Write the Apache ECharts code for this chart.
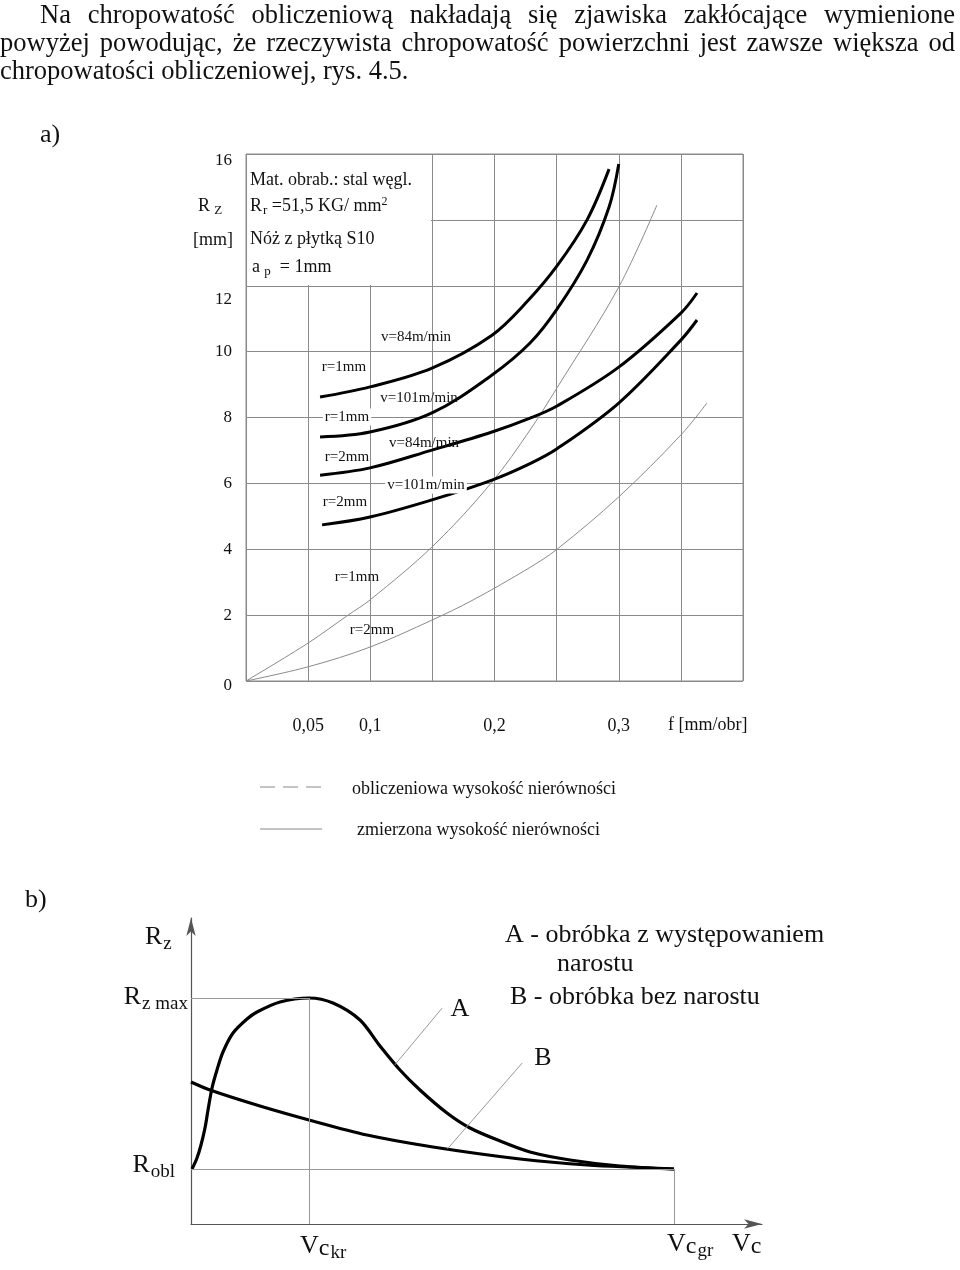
<!DOCTYPE html>
<html><head><meta charset="utf-8">
<script src="https://cdn.jsdelivr.net/npm/echarts@6.0.0/dist/echarts.min.js"></script>
<style>html,body{margin:0;padding:0;background:#fff}#c{width:960px;height:1270px}</style>
</head><body><div id="c"></div>
<script>
// ---------- chart a) data : f [mm/obr] vs Rz [um] ----------
const fTickLabels = [0.05, 0.1, 0.2, 0.3];
const rzTickLabels = [0, 2, 4, 6, 8, 10, 12, 16];
// measured (thick) curves
const f_v84_r1  = [0.0596, 0.0998, 0.1497, 0.198, 0.227, 0.2503, 0.2745, 0.2922];
const rz_v84_r1 = [8.62, 8.93, 9.50, 10.50, 11.55, 12.60, 14.0, 15.54];
const f_v101_r1  = [0.0596, 0.0998, 0.1497, 0.198, 0.2286, 0.2503, 0.2745, 0.2922, 0.300];
const rz_v101_r1 = [7.41, 7.56, 8.14, 9.29, 10.26, 11.29, 12.78, 14.39, 15.70];
const f_v84_r2  = [0.0596, 0.0998, 0.1497, 0.198, 0.2286, 0.2503, 0.300, 0.350, 0.363];
const rz_v84_r2 = [6.25, 6.47, 7.01, 7.56, 7.98, 8.35, 9.53, 11.17, 11.78];
const f_v101_r2  = [0.0612, 0.0998, 0.1497, 0.198, 0.2286, 0.2503, 0.300, 0.350, 0.363];
const rz_v101_r2 = [4.74, 4.98, 5.50, 6.10, 6.60, 7.05, 8.44, 10.35, 10.96];
// calculated (thin) curves
const f_calc_r1  = [0, 0.0499, 0.0821, 0.0998, 0.1505, 0.198, 0.2286, 0.2503, 0.300, 0.3307];
const rz_calc_r1 = [0, 1.15, 2.00, 2.46, 4.10, 6.04, 7.62, 8.90, 11.96, 14.45];
const f_calc_r2  = [0, 0.0499, 0.0998, 0.1497, 0.1827, 0.2286, 0.2503, 0.300, 0.350, 0.371];
const rz_calc_r2 = [0, 0.43, 1.03, 1.85, 2.46, 3.45, 4.00, 5.59, 7.47, 8.44];

// ---------- chart b) data : Vc vs Rz (schematic, relative units) ----------
const vc_A = [0.18, 1.05, 1.75, 2.45, 2.98, 3.68, 4.55, 5.60, 7.36, 9.81, 11.56, 15.59, 20.67, 24.87, 29.60, 33.10, 36.60, 40.10, 44.83, 48.86, 54.12, 59.37, 66.37, 75.13, 84.59];
const rz_A = [17.97, 21.57, 25.82, 31.37, 37.25, 44.44, 50.33, 56.21, 62.42, 66.99, 69.28, 72.55, 73.86, 72.22, 66.67, 58.17, 50.33, 43.79, 36.27, 31.37, 27.12, 23.53, 20.92, 18.95, 17.97];
const vc_B = [0, 3.33, 12.08, 20.67, 30.82, 42.38, 57.62, 69.35, 84.59];
const rz_B = [46.41, 43.79, 38.56, 33.99, 29.08, 25.16, 21.24, 19.28, 17.97];
const vcKr = 20.67, vcGr = 84.59, rzMax = 73.86, rzObl = 17.97;
const leaderA = [[35.7, 52.0], [44.0, 70.6]];
const leaderB = [[44.9, 24.5], [58.0, 52.6]];

// ---------- text ----------
const para1 = "Na chropowatość obliczeniową nakładają się zjawiska zakłócające wymienione";
const para2 = "powyżej powodując, że rzeczywista chropowatość powierzchni jest zawsze większa od";
const para3 = "chropowatości obliczeniowej, rys. 4.5.";

const FF = '"Liberation Serif", "Times New Roman", serif';
const zip = (a, b) => a.map((v, i) => [v, b[i]]);

function txt(x, y, text, size, o) {
  o = o || {};
  const st = { text: text, fontSize: size, fontFamily: FF, fill: o.fill || '#111',
    align: o.align || 'left', verticalAlign: o.va || 'middle' };
  if (o.rich) st.rich = o.rich;
  if (o.bg) { st.backgroundColor = o.bg; st.padding = o.pad || [1, 2]; }
  return { type: 'text', x: x, y: y, z: 10, silent: true, style: st };
}
const graphics = [];
// justified paragraph
const cv = document.createElement('canvas').getContext('2d');
function justify(line, x0, x1, y, size) {
  const words = line.split(' ');
  cv.font = size + 'px ' + FF;
  const w = words.map(s => cv.measureText(s).width);
  const tot = w.reduce((a, b) => a + b, 0);
  const gap = (x1 - x0 - tot) / (words.length - 1);
  let x = x0;
  words.forEach((s, i) => { graphics.push(txt(x, y, s, size)); x += w[i] + gap; });
}
justify(para1, 40, 955, 16, 26.5);
justify(para2, 0, 955, 44.5, 26.5);
graphics.push(txt(0, 72, para3, 26.5));
graphics.push(txt(40, 135, 'a)', 26));
graphics.push(txt(25, 900, 'b)', 26));

// chart a annotations
graphics.push({ type: 'rect', z: 9, silent: true, shape: { x: 247, y: 155, width: 184, height: 130 }, style: { fill: '#fff' } });
const sub18 = { n: { fontSize: 18, fontFamily: FF, fill: '#111' }, s: { fontSize: 13, fontFamily: FF, fill: '#111', padding: [9, 0, 0, 1] }, p: { fontSize: 12, fontFamily: FF, fill: '#111', padding: [0, 0, 9, 0] } };
graphics.push(txt(250, 180, 'Mat. obrab.: stal węgl.', 18));
graphics.push(txt(250, 206, '{n|R}{s|r}{n| =51,5 KG/ mm}{p|2}', 18, { rich: sub18 }));
graphics.push(txt(250, 239, 'Nóż z płytką S10', 18));
graphics.push(txt(252, 267, '{n|a}{s| p}{n|  = 1mm}', 18, { rich: sub18 }));
graphics.push(txt(198, 206, '{n|R}{s| Z}', 18, { rich: sub18 }));
graphics.push(txt(193, 240, '[mm]', 18));
graphics.push(txt(668, 725, 'f [mm/obr]', 18));
const lab = [
  ['v=84m/min', 416, 337, null], ['r=1mm', 344, 367, null],
  ['v=101m/min', 419, 398, null], ['r=1mm', 347, 417, '#fff'],
  ['v=84m/min', 424, 443, null], ['r=2mm', 347, 457, null],
  ['v=101m/min', 426, 485, '#fff'], ['r=2mm', 345, 502, null],
  ['r=1mm', 357, 577, null], ['r=2mm', 372, 630, null]
];
lab.forEach(l => graphics.push(txt(l[1], l[2], l[0], 15, { align: 'center', bg: l[3] })));
// legend
graphics.push({ type: 'line', z: 10, silent: true, shape: { x1: 260, y1: 787, x2: 322, y2: 787 }, style: { stroke: '#888', lineWidth: 1, lineDash: [15, 8] } });
graphics.push({ type: 'line', z: 10, silent: true, shape: { x1: 260, y1: 829, x2: 322, y2: 829 }, style: { stroke: '#888', lineWidth: 1 } });
graphics.push(txt(352, 789, 'obliczeniowa wysokość nierówności', 18));
graphics.push(txt(357, 830, 'zmierzona wysokość nierówności', 18));

// chart b annotations
const sub26 = { n: { fontSize: 26, fontFamily: FF, fill: '#111' }, c: { fontSize: 24, fontFamily: FF, fill: '#111', padding: [6, 0, 0, 0] }, s: { fontSize: 19, fontFamily: FF, fill: '#111', padding: [14, 0, 0, 1] } };
graphics.push(txt(145, 937, '{n|R}{s|z}', 26, { rich: sub26 }));
graphics.push(txt(188, 997, '{n|R}{s|z max}', 26, { rich: sub26, align: 'right' }));
graphics.push(txt(175, 1165, '{n|R}{s|obl}', 26, { rich: sub26, align: 'right' }));
graphics.push(txt(300, 1246, '{n|V}{c|c}{s|kr}', 26, { rich: sub26 }));
graphics.push(txt(667, 1244, '{n|V}{c|c}{s|gr}', 26, { rich: sub26 }));
graphics.push(txt(732, 1244, '{n|V}{c|c}', 26, { rich: sub26 }));
graphics.push(txt(460, 1009, 'A', 26, { align: 'center' }));
graphics.push(txt(543, 1058, 'B', 26, { align: 'center' }));
graphics.push(txt(505, 935, 'A - obróbka z występowaniem', 26));
graphics.push(txt(557, 964, 'narostu', 26));
graphics.push(txt(510, 997, 'B - obróbka bez narostu', 26));

const near = (v, arr) => arr.some(a => Math.abs(a - v) < 1e-6);
// small vertical offsets of some tick labels, as printed in the original
const yLabStyle = v => v === 16 ? 'd' : v === 12 ? 'e' : v === 0 ? 'z' : 'n';
const thick = (name, f, r) => ({ name, type: 'line', xAxisIndex: 0, yAxisIndex: 0, data: zip(f, r), smooth: 0.35, showSymbol: false, lineStyle: { color: '#000', width: 3 }, z: 3 });
const thin = (name, f, r) => ({ name, type: 'line', xAxisIndex: 0, yAxisIndex: 0, data: zip(f, r), smooth: 0.35, showSymbol: false, lineStyle: { color: '#8a8a8a', width: 1 }, z: 3 });
const refStyle = { color: '#999', width: 1, type: 'solid' };
const ml = (a, b) => [{ coord: a }, { coord: b }];
const yRich = {
  n: { fontSize: 17, fontFamily: FF, color: '#111' },
  d: { fontSize: 17, fontFamily: FF, color: '#111', padding: [14, 0, 0, 0] },
  e: { fontSize: 17, fontFamily: FF, color: '#111', padding: [28, 0, 0, 0] },
  z: { fontSize: 17, fontFamily: FF, color: '#111', padding: [10, 0, 0, 0] }
};

const option = {
  animation: false,
  backgroundColor: '#fff',
  textStyle: { fontFamily: FF },
  grid: [
    { left: 246, right: 217, top: 154, bottom: 589, show: true, borderColor: '#8a8a8a', borderWidth: 1, containLabel: false },
    { left: 191, right: 198, top: 918, bottom: 46, show: false }
  ],
  xAxis: [
    { gridIndex: 0, type: 'value', min: 0, max: 0.4, interval: 0.05,
      axisLine: { show: false }, axisTick: { show: false },
      splitLine: { show: true, lineStyle: { color: '#8a8a8a', width: 1 } },
      axisLabel: { margin: 36, fontSize: 18, fontFamily: FF, color: '#111',
        formatter: v => near(v, fTickLabels) ? String(Math.round(v * 100) / 100).replace('.', ',') : '' } },
    { gridIndex: 1, type: 'value', min: 0, max: 100,
      axisLine: { show: true, symbol: ['none', 'arrow'], symbolSize: [7, 18], lineStyle: { color: '#555', width: 1.2 } },
      axisTick: { show: false }, axisLabel: { show: false }, splitLine: { show: false } }
  ],
  yAxis: [
    { gridIndex: 0, type: 'value', min: 0, max: 16, interval: 2,
      axisLine: { show: false }, axisTick: { show: false },
      splitLine: { show: true, lineStyle: { color: '#8a8a8a', width: 1 } },
      axisLabel: { margin: 14, fontSize: 17, fontFamily: FF, color: '#111', rich: yRich,
        formatter: v => near(v, rzTickLabels) ? '{' + yLabStyle(v) + '|' + v + '}' : '' } },
    { gridIndex: 1, type: 'value', min: 0, max: 100,
      axisLine: { show: true, symbol: ['none', 'arrow'], symbolSize: [7, 18], lineStyle: { color: '#555', width: 1.2 } },
      axisTick: { show: false }, axisLabel: { show: false }, splitLine: { show: false } }
  ],
  series: [
    thin('obliczeniowa r=1mm', f_calc_r1, rz_calc_r1),
    thin('obliczeniowa r=2mm', f_calc_r2, rz_calc_r2),
    thick('v=84 r=1', f_v84_r1, rz_v84_r1),
    thick('v=101 r=1', f_v101_r1, rz_v101_r1),
    thick('v=84 r=2', f_v84_r2, rz_v84_r2),
    thick('v=101 r=2', f_v101_r2, rz_v101_r2),
    { name: 'A', type: 'line', xAxisIndex: 1, yAxisIndex: 1, data: zip(vc_A, rz_A), smooth: 0.3, showSymbol: false,
      lineStyle: { color: '#000', width: 3.2 }, z: 3,
      markLine: { silent: true, symbol: 'none', label: { show: false }, lineStyle: refStyle, animation: false,
        data: [ ml([0, rzMax], [vcKr, rzMax]), ml([vcKr, rzMax], [vcKr, 0]), ml([0, rzObl], [vcGr, rzObl]), ml([vcGr, rzObl], [vcGr, 0]),
                ml(leaderA[0], leaderA[1]), ml(leaderB[0], leaderB[1]) ] } },
    { name: 'B', type: 'line', xAxisIndex: 1, yAxisIndex: 1, data: zip(vc_B, rz_B), smooth: 0.3, showSymbol: false,
      lineStyle: { color: '#000', width: 3.2 }, z: 3 }
  ],
  graphic: graphics
};
const chart = echarts.init(document.getElementById('c'), null, { renderer: 'canvas' });
chart.setOption(option);
</script></body></html>
